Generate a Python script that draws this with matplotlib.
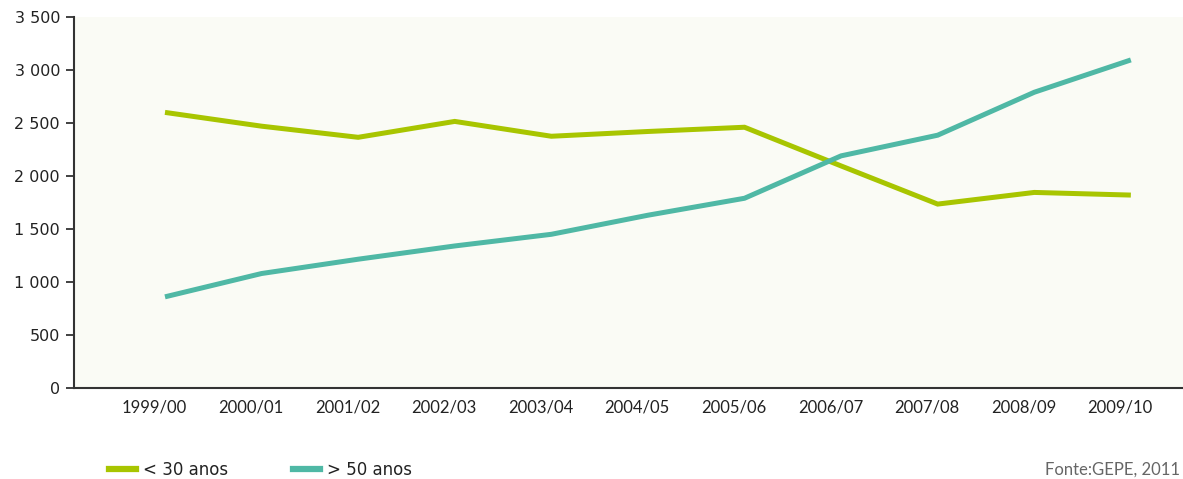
import numpy as np
import matplotlib
matplotlib.use("Agg")
import matplotlib.pyplot as plt
from matplotlib.lines import Line2D
from matplotlib.ticker import FuncFormatter

# data
years = ["1999/00", "2000/01", "2001/02", "2002/03", "2003/04", "2004/05",
         "2005/06", "2006/07", "2007/08", "2008/09", "2009/10"]
under_30 = [2600, 2470, 2365, 2515, 2375, 2420, 2460, 2095, 1735, 1845, 1820]
over_50 = [860, 1080, 1215, 1340, 1450, 1630, 1790, 2190, 2385, 2790, 3095]
series_names = ["< 30 anos", "> 50 anos"]

green = "#a8c500"
teal = "#4fb8a5"
axis_col = "#333333"

fig = plt.figure(figsize=(11.83, 4.79), dpi=100)
ax = fig.add_axes([74/1183, 91/479, 1 - 74/1183, (388-17)/479])
ax.set_facecolor("#fafbf5")

x = np.arange(len(years))
ax.plot(x, under_30, color=green, lw=3.6, solid_joinstyle="miter", solid_capstyle="butt")
ax.plot(x, over_50, color=teal, lw=3.6, solid_joinstyle="miter", solid_capstyle="butt")

ax.set_xlim(-0.942, 10.54)
ax.set_ylim(0, 3500)
ax.set_yticks(np.arange(0, 3501, 500))
ax.yaxis.set_major_formatter(FuncFormatter(lambda v, p: f"{int(v):,}".replace(",", " ")))
ax.set_xticks(x - 0.11)
ax.set_xticklabels(years, family="Lato", fontsize=12, color="#222222")
ax.tick_params(axis="x", length=0, pad=8)
ax.tick_params(axis="y", length=6, width=1.3, color=axis_col, labelsize=11.5,
               labelcolor="#222222", pad=4)

for s in ["top", "right"]:
    ax.spines[s].set_visible(False)
for s in ["left", "bottom"]:
    ax.spines[s].set_color(axis_col)
    ax.spines[s].set_linewidth(1.5)

# legend along the bottom
handles = [Line2D([], [], color=green, lw=4.5), Line2D([], [], color=teal, lw=4.5)]
leg = fig.legend(handles, series_names, loc="center left", bbox_to_anchor=(109/1183, 1 - 470/479),
                 ncol=2, frameon=False, fontsize=12, handlelength=1.6, handletextpad=0.45,
                 columnspacing=3.9, borderaxespad=0, borderpad=0)
for t in leg.get_texts():
    t.set_color("#222222")

fig.text(1180/1183, 1 - 470/479, "Fonte:GEPE, 2011", ha="right", va="center",
         family="Lato", fontsize=12, color="#666666")

fig.savefig("out.png", dpi=100)
